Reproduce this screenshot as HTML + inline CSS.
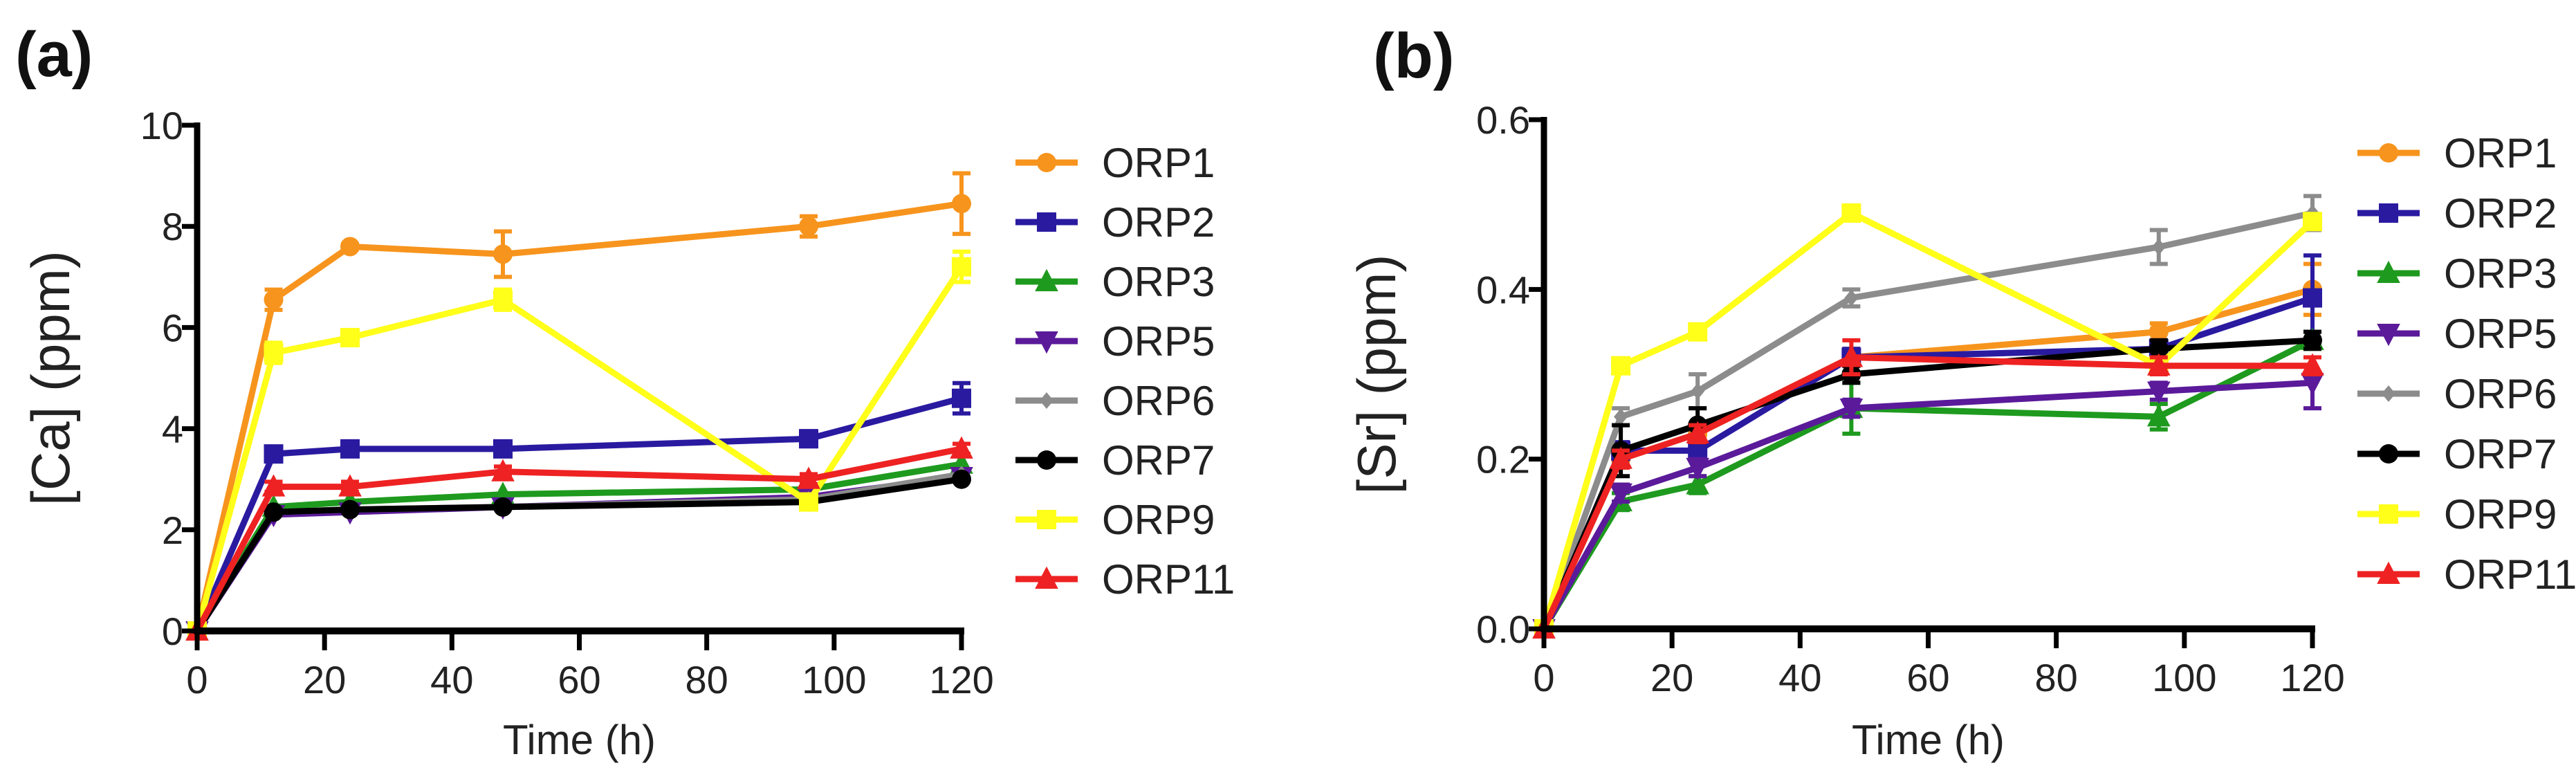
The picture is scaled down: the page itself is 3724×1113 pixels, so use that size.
<!DOCTYPE html>
<html><head><meta charset="utf-8"><style>
html,body{margin:0;padding:0;background:#fff;}
svg{display:block;font-family:"Liberation Sans",Arial,sans-serif;}
</style></head><body>
<svg id="fig" width="3724" height="1113" viewBox="0 0 3724 1113" xmlns="http://www.w3.org/2000/svg"></svg>
<script>
const times = [0, 12, 24, 48, 96, 120];
const seriesNames = ["ORP1","ORP2","ORP3","ORP5","ORP6","ORP7","ORP9","ORP11"];
const colors = ["#f7941d","#2a1aa0","#1e9a1e","#5a1a9a","#8c8c8c","#000000","#ffff1a","#ee2222"];
const markers = ["circle","square","tri","tridown","diamond","circle","square","tri"];
const caORP1 = [0, 6.55, 7.6, 7.45, 8.0, 8.45];
const caORP2 = [0, 3.5, 3.6, 3.6, 3.8, 4.6];
const caORP3 = [0, 2.45, 2.55, 2.7, 2.8, 3.3];
const caORP5 = [0, 2.3, 2.35, 2.45, 2.65, 3.05];
const caORP6 = [0, 2.35, 2.4, 2.45, 2.6, 3.1];
const caORP7 = [0, 2.35, 2.4, 2.45, 2.55, 3.0];
const caORP9 = [0, 5.5, 5.8, 6.55, 2.55, 7.2];
const caORP11 = [0, 2.85, 2.85, 3.15, 3.0, 3.6];
const caErr1 = [0, 0.2, 0.05, 0.45, 0.2, 0.6];
const caErr2 = [0, 0.1, 0.05, 0.05, 0.15, 0.3];
const caErr9 = [0, 0.2, 0.15, 0.2, 0.15, 0.3];
const caErr11 = [0, 0.1, 0.1, 0.1, 0.1, 0.1];
const srORP1 = [0, 0.20, 0.23, 0.32, 0.35, 0.40];
const srORP2 = [0, 0.21, 0.21, 0.32, 0.33, 0.39];
const srORP3 = [0, 0.15, 0.17, 0.26, 0.25, 0.34];
const srORP5 = [0, 0.16, 0.19, 0.26, 0.28, 0.29];
const srORP6 = [0, 0.25, 0.28, 0.39, 0.45, 0.49];
const srORP7 = [0, 0.21, 0.24, 0.30, 0.33, 0.34];
const srORP9 = [0, 0.31, 0.35, 0.49, 0.31, 0.48];
const srORP11 = [0, 0.20, 0.23, 0.32, 0.31, 0.31];
const srErr1 = [0, 0.01, 0.01, 0.01, 0.01, 0.03];
const srErr2 = [0, 0.01, 0.01, 0.01, 0.01, 0.05];
const srErr3 = [0, 0.01, 0.01, 0.03, 0.015, 0.01];
const srErr5 = [0, 0.01, 0.01, 0.01, 0.01, 0.03];
const srErr6 = [0, 0.01, 0.02, 0.01, 0.02, 0.02];
const srErr7 = [0, 0.03, 0.02, 0.01, 0.01, 0.01];
const srErr11 = [0, 0.01, 0.01, 0.02, 0.01, 0.01];
const xTicks = [0, 20, 40, 60, 80, 100, 120];
const caTicks = [0, 2, 4, 6, 8, 10];
const srTicks = [0, 0.2, 0.4, 0.6];
const srTickLabels = ["0.0","0.2","0.4","0.6"];

const NS = "http://www.w3.org/2000/svg";
const svg = document.getElementById("fig");
function mk(tag, attrs, parent){const e=document.createElementNS(NS,tag);for(const k in attrs)e.setAttribute(k,attrs[k]);(parent||svg).appendChild(e);return e;}

function marker(g, type, x, y, col, s){
  let e;
  if(type==="circle") e=mk("circle",{cx:x,cy:y,r:s},g);
  else if(type==="square") e=mk("rect",{x:x-s,y:y-s,width:2*s,height:2*s},g);
  else if(type==="tri") e=mk("polygon",{points:`${x},${y-s*1.3} ${x-s*1.2},${y+s} ${x+s*1.2},${y+s}`},g);
  else if(type==="tridown") e=mk("polygon",{points:`${x},${y+s*1.3} ${x-s*1.2},${y-s} ${x+s*1.2},${y-s}`},g);
  else e=mk("polygon",{points:`${x},${y-s*1.2} ${x+s},${y} ${x},${y+s*1.2} ${x-s},${y}`},g);
  e.setAttribute("fill",col);
  
  
}

function panel(cfg){
  const p = mk("g",{});
  
  
  const X = t => cfg.x0 + (t/120)*(cfg.x1-cfg.x0);
  const Y = v => cfg.y0 - (v/cfg.ymax)*(cfg.y0-cfg.y1);
  const lab = mk("text",{x:cfg.labX,y:cfg.labY,"font-size":92,"font-weight":"bold",fill:"#111"},p);
  lab.textContent = cfg.label;
  
  
  const plotG = mk("g",{},p);
  
  
  cfg.series.forEach((vals,i)=>{
    const g = mk("g",{},plotG);
    
    
    const err = cfg.errs[i];
    if(err){
      times.forEach((t,j)=>{
        if(err[j]<=0) return;
        const x=X(t), ya=Y(vals[j]+err[j]), yb=Y(vals[j]-err[j]);
        mk("path",{d:`M${x},${ya}V${yb}M${x-13},${ya}H${x+13}M${x-13},${yb}H${x+13}`,stroke:colors[i],"stroke-width":6,fill:"none"},g);
      });
    }
    const pts = times.map((t,j)=>X(t)+","+Y(vals[j])).join(" ");
    const pl = mk("polyline",{points:pts,fill:"none",stroke:colors[i],"stroke-width":9,"stroke-linejoin":"round"},g);
    
    
    times.forEach((t,j)=>marker(g,markers[i],X(t),Y(vals[j]),colors[i],i===4?10:14));
  });
  const ax = mk("g",{},p);
  
  
  mk("line",{x1:cfg.x0,y1:cfg.y1-4,x2:cfg.x0,y2:cfg.y0+5,stroke:"#000","stroke-width":9},ax);
  mk("line",{x1:cfg.x0-4,y1:cfg.y0,x2:cfg.x1+4,y2:cfg.y0,stroke:"#000","stroke-width":10},ax);
  xTicks.forEach(t=>{
    mk("line",{x1:X(t),y1:cfg.y0,x2:X(t),y2:cfg.y0+28,stroke:"#000","stroke-width":7},ax);
    const tx = mk("text",{x:X(t),y:cfg.y0+90,"font-size":56,"text-anchor":"middle",fill:"#222"},ax);
    tx.textContent = t;
    
    
  });
  cfg.ticks.forEach((v,k)=>{
    mk("line",{x1:cfg.x0-22,y1:Y(v),x2:cfg.x0,y2:Y(v),stroke:"#000","stroke-width":7},ax);
    const tx = mk("text",{x:cfg.x0-20,y:Y(v)+20,"font-size":56,"text-anchor":"end",fill:"#222"},ax);
    tx.textContent = cfg.tickLabels[k];
    
    
  });
  const xt = mk("text",{x:(cfg.x0+cfg.x1)/2,y:1090,"font-size":60,"text-anchor":"middle",fill:"#222"},p);
  xt.textContent = "Time (h)";
  
  
  const yt = mk("text",{x:0,y:0,"font-size":78,"text-anchor":"middle",fill:"#222",transform:`translate(${cfg.ytX},${(cfg.y0+cfg.y1)/2}) rotate(-90)`},p);
  yt.textContent = cfg.ytitle;
  
  
  const lg = mk("g",{},p);
  
  
  seriesNames.forEach((n,i)=>{
    const y = cfg.legY + i*cfg.legDy;
    const e = mk("g",{},lg);
    
    
    mk("line",{x1:cfg.legX,y1:y,x2:cfg.legX+90,y2:y,stroke:colors[i],"stroke-width":9},e);
    marker(e,markers[i],cfg.legX+45,y,colors[i],i===4?10:14);
    const t = mk("text",{x:cfg.legX+125,y:y+21,"font-size":60,fill:"#222"},e);
    t.textContent = n;
  });
}

panel({id:"panel-a-calcium",label:"(a)",labX:22,labY:110,x0:285,x1:1390,y0:912,y1:181,ymax:10,
  ticks:caTicks,tickLabels:caTicks.map(String),ytitle:"[Ca] (ppm)",ytX:100,
  series:[caORP1,caORP2,caORP3,caORP5,caORP6,caORP7,caORP9,caORP11],
  errs:[caErr1,caErr2,null,null,null,null,caErr9,caErr11],
  legX:1468,legY:235,legDy:86});
panel({id:"panel-b-strontium",label:"(b)",labX:1985,labY:112,x0:2232,x1:3343,y0:909,y1:173,ymax:0.6,
  ticks:srTicks,tickLabels:srTickLabels,ytitle:"[Sr] (ppm)",ytX:2017,
  series:[srORP1,srORP2,srORP3,srORP5,srORP6,srORP7,srORP9,srORP11],
  errs:[srErr1,srErr2,srErr3,srErr5,srErr6,srErr7,null,srErr11],
  legX:3408,legY:221,legDy:87});
</script>
</body></html>
